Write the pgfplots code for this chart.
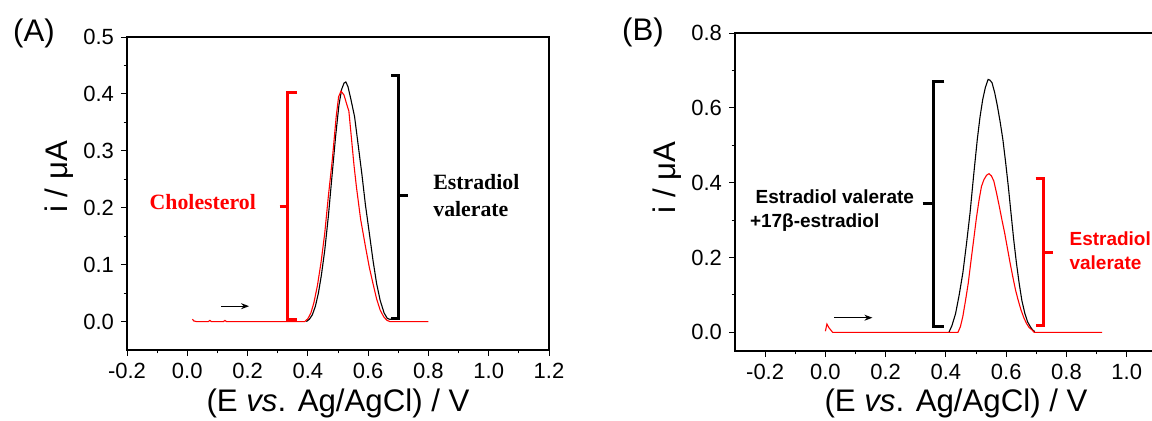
\documentclass[border=0pt]{standalone}
\usepackage{pgfplots}
\pgfplotsset{compat=1.18}
\usetikzlibrary{arrows.meta}
\usepackage{fontspec}
\setmainfont{Liberation Sans}
\newfontfamily\serifbf{Liberation Serif}
\definecolor{pred}{RGB}{255,0,0}
\begin{document}
\begin{tikzpicture}
\useasboundingbox (0,0) rectangle (576pt,210pt);
\clip (0,0) rectangle (576pt,210pt);
\pgfplotsset{
  myax/.style={
    scale only axis, clip=false,
    axis line style={line width=0.7pt, black},
    tick pos=left, tick align=outside,
    major tick length=3pt, minor tick length=1.7pt,
    tick style={black, line width=0.5pt},
    tick label style={font=\fontsize{11}{13}\selectfont},
    /pgf/number format/assume math mode=true,
    /pgf/number format/fixed,
    /pgf/number format/fixed zerofill,
    /pgf/number format/precision=1,
    minor x tick num=1, minor y tick num=1,
  },
  bracket/.style={line width=1.5pt},
  curve/.style={line width=0.55pt},
}
% ---------- Panel A ----------
\begin{axis}[myax, at={(63.5pt,35pt)}, anchor=south west,
  width=211pt, height=156.5pt,
  xmin=-0.2, xmax=1.2, ymin=-0.05, ymax=0.5,
  xtick={-0.2,0,0.2,0.4,0.6,0.8,1.0,1.2},
  ytick={0,0.1,0.2,0.3,0.4,0.5}]
\addplot[curve, black] coordinates {
(0.395,0) (0.405,0.004) (0.415,0.012) (0.425,0.027) (0.435,0.05) (0.445,0.082)
(0.456,0.125) (0.468,0.185) (0.48,0.255) (0.492,0.325) (0.503,0.38) (0.512,0.408)
(0.52,0.419) (0.526,0.421) (0.533,0.413) (0.543,0.39) (0.555,0.36) (0.567,0.31)
(0.579,0.26) (0.591,0.205) (0.604,0.155) (0.616,0.108) (0.628,0.067) (0.64,0.037)
(0.653,0.015) (0.663,0.006) (0.671,0.004) (0.685,0.004)};
\addplot[curve, pred] coordinates {
(0.017,0.004) (0.022,0.001) (0.03,0) (0.07,0) (0.075,0.002) (0.08,0) (0.12,0)
(0.125,0.002) (0.13,0) (0.39,0) (0.40,0.005) (0.41,0.015) (0.42,0.033) (0.432,0.064)
(0.444,0.105) (0.456,0.155) (0.468,0.22) (0.481,0.284) (0.494,0.36) (0.502,0.395)
(0.51,0.405) (0.52,0.398) (0.53,0.38) (0.536,0.37) (0.545,0.32) (0.553,0.275)
(0.561,0.237) (0.575,0.18) (0.591,0.132) (0.604,0.095) (0.616,0.067) (0.628,0.04)
(0.64,0.02) (0.652,0.008) (0.663,0.002) (0.672,0) (0.80,0)};
% brackets
\addplot[bracket, pred] coordinates {(0.364,0.403) (0.334,0.403) (0.334,0.004) (0.364,0.004)};
\addplot[bracket, pred] coordinates {(0.306,0.202) (0.334,0.202)};
\addplot[bracket, black] coordinates {(0.677,0.433) (0.702,0.433) (0.702,0.006) (0.677,0.006)};
\addplot[bracket, black] coordinates {(0.702,0.221) (0.733,0.221)};
\draw[line width=0.6pt, -{Stealth[length=4pt,width=3pt]}] (axis cs:0.113,0.027) -- (axis cs:0.205,0.027);
\node[anchor=base west, inner sep=0pt, text=pred, font=\serifbf\bfseries\fontsize{10.9}{13}\selectfont] at (axis cs:-0.126,0.197) {Cholesterol};
\node[anchor=base west, inner sep=0pt, font=\serifbf\bfseries\fontsize{10.9}{13}\selectfont] at (axis cs:0.815,0.232) {Estradiol};
\node[anchor=base west, inner sep=0pt, font=\serifbf\bfseries\fontsize{10.9}{13}\selectfont] at (axis cs:0.815,0.184) {valerate};
\end{axis}
% ---------- Panel B ----------
\begin{axis}[myax, at={(367.5pt,34.5pt)}, anchor=south west,
  width=226pt, height=159pt,
  xmin=-0.3, xmax=1.2, ymin=-0.05, ymax=0.8,
  xtick={-0.2,0,0.2,0.4,0.6,0.8,1.0},
  ytick={0,0.2,0.4,0.6,0.8}]
\addplot[curve, black] coordinates {
(0.41,0) (0.42,0.018) (0.432,0.05) (0.444,0.1) (0.456,0.158) (0.468,0.235) (0.48,0.319)
(0.492,0.42) (0.504,0.515) (0.513,0.575) (0.522,0.622) (0.531,0.655) (0.54,0.676)
(0.546,0.674) (0.553,0.667) (0.562,0.64) (0.571,0.604) (0.58,0.562) (0.589,0.515)
(0.598,0.455) (0.607,0.39) (0.616,0.318) (0.625,0.247) (0.634,0.185) (0.643,0.131)
(0.652,0.085) (0.662,0.05) (0.671,0.028) (0.68,0.015) (0.688,0.006) (0.695,0.002)};
\addplot[curve, pred] coordinates {
(0.0,0.003) (0.005,0.022) (0.012,0.012) (0.024,0) (0.44,0) (0.448,0.015) (0.456,0.042)
(0.465,0.085) (0.474,0.131) (0.483,0.19) (0.492,0.247) (0.501,0.305) (0.51,0.354)
(0.518,0.39) (0.526,0.408) (0.535,0.42) (0.543,0.424) (0.551,0.418) (0.559,0.404)
(0.568,0.372) (0.577,0.337) (0.586,0.3) (0.595,0.265) (0.604,0.225) (0.613,0.185)
(0.622,0.148) (0.631,0.113) (0.64,0.085) (0.649,0.06) (0.658,0.04) (0.667,0.024)
(0.676,0.013) (0.686,0.006) (0.693,0) (0.918,0)};
\addplot[bracket, black] coordinates {(0.395,0.671) (0.359,0.671) (0.359,0.015) (0.395,0.015)};
\addplot[bracket, black] coordinates {(0.323,0.343) (0.359,0.343)};
\addplot[bracket, pred] coordinates {(0.698,0.411) (0.724,0.411) (0.724,0.017) (0.698,0.017)};
\addplot[bracket, pred] coordinates {(0.724,0.214) (0.754,0.214)};
\draw[line width=0.6pt, -{Stealth[length=4pt,width=3pt]}] (axis cs:0.029,0.039) -- (axis cs:0.156,0.039);
\node[anchor=base west, inner sep=0pt, font=\bfseries\fontsize{9.5}{12}\selectfont] at (axis cs:-0.233,0.3455) {Estradiol valerate};
\node[anchor=base west, inner sep=0pt, font=\bfseries\fontsize{9.5}{12}\selectfont] at (axis cs:-0.2515,0.280) {+17β-estradiol};
\node[anchor=base west, inner sep=0pt, text=pred, font=\bfseries\fontsize{9.5}{12}\selectfont] at (axis cs:0.809,0.231) {Estradiol};
\node[anchor=base west, inner sep=0pt, text=pred, font=\bfseries\fontsize{9.5}{12}\selectfont] at (axis cs:0.809,0.167) {valerate};
\end{axis}
% ---------- labels ----------
\node[font=\fontsize{15.6}{18}\selectfont] at (17pt,193.25pt) {(A)};
\node[font=\fontsize{15.6}{18}\selectfont] at (321.5pt,194pt) {(B)};
\node[font=\fontsize{15.6}{18}\selectfont] at (169pt,8.5pt) {(E \textit{vs}. Ag/AgCl) / V};
\node[font=\fontsize{15.6}{18}\selectfont] at (478pt,8.5pt) {(E \textit{vs}. Ag/AgCl) / V};
\node[rotate=90, font=\fontsize{15.6}{18}\selectfont] at (29.5pt,121.5pt) {i / μA};
\node[rotate=90, font=\fontsize{15.6}{18}\selectfont] at (333.5pt,121.25pt) {i / μA};
\end{tikzpicture}
\end{document}
